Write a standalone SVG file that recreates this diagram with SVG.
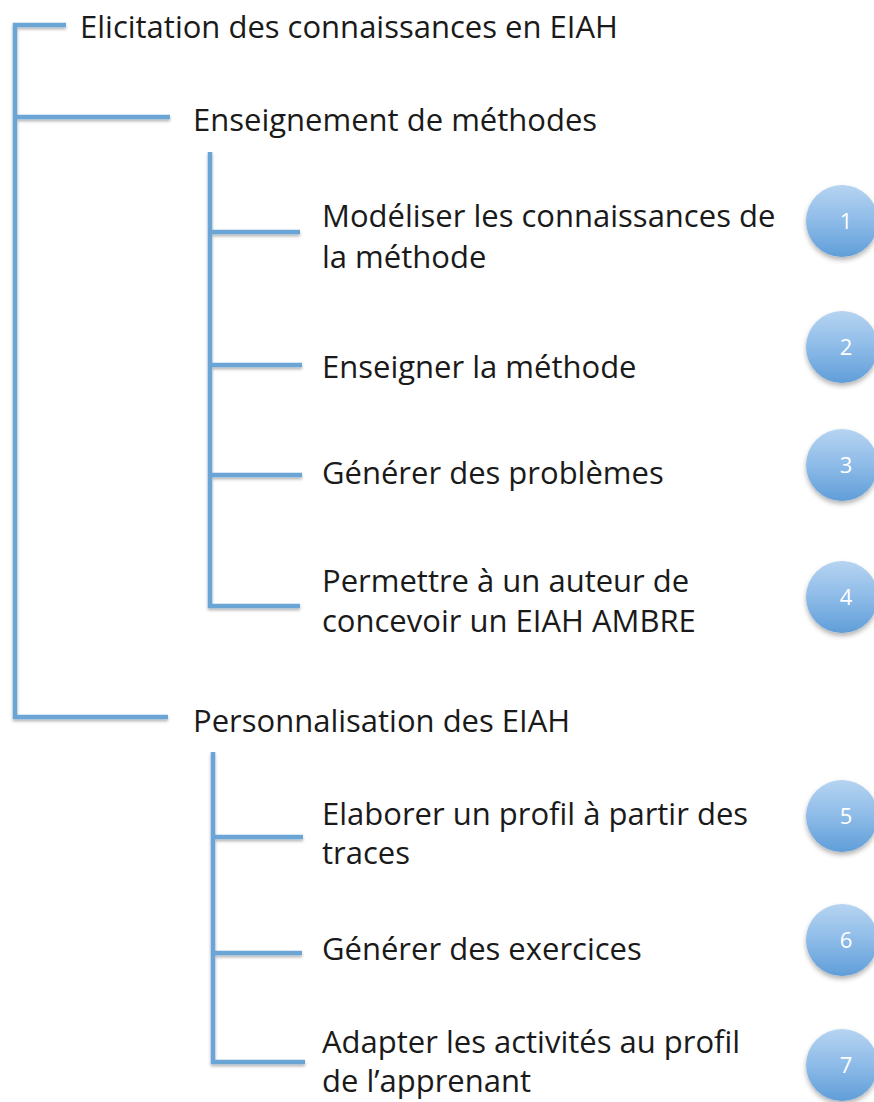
<svg xmlns="http://www.w3.org/2000/svg" width="874" height="1102" viewBox="0 0 874 1102">
<style>
.ln{stroke:#6ba5d6;stroke-width:4.5;fill:none;stroke-linecap:butt;}
.t{font-family:"Open Sans","Liberation Sans",sans-serif;font-size:31px;fill:#1a1a1a;}
.n{font-family:"Open Sans","Liberation Sans",sans-serif;font-size:22px;fill:#ffffff;text-anchor:middle;}
.c{fill:url(#cg);filter:url(#cs);}
</style>
<defs>
<linearGradient id="cg" x1="0" y1="0" x2="0" y2="1">
<stop offset="0" stop-color="#b6d4f1"/>
<stop offset="0.5" stop-color="#8dbbe8"/>
<stop offset="1" stop-color="#609ed9"/>
</linearGradient>
<filter id="ls" x="-20%" y="-20%" width="140%" height="140%">
<feDropShadow dx="0" dy="2" stdDeviation="1.5" flood-color="#000" flood-opacity="0.3"/>
</filter>
<filter id="cs" x="-30%" y="-30%" width="160%" height="170%">
<feDropShadow dx="0" dy="3" stdDeviation="2.5" flood-color="#000" flood-opacity="0.3"/>
</filter>
</defs>
<rect width="874" height="1102" fill="#ffffff"/>
<g id="connectors" filter="url(#ls)">
<path class="ln" d="M66,25 H15 V717 H168"/>
<path class="ln" d="M15,117 H170"/>
<path class="ln" d="M210,152 V606 H300"/>
<path class="ln" d="M210,232 H300"/>
<path class="ln" d="M210,365 H302"/>
<path class="ln" d="M210,475 H302"/>
<path class="ln" d="M213,752 V1062 H305"/>
<path class="ln" d="M213,837 H303"/>
<path class="ln" d="M213,953 H302"/>
</g>
<g id="root"><text class="t" x="80" y="38">Elicitation des connaissances en EIAH</text></g>
<g id="enseignement"><text class="t" x="193" y="131">Enseignement de méthodes</text></g>
<g id="item1">
<text class="t" x="322" y="227">Modéliser les connaissances de</text>
<text class="t" x="322" y="268">la méthode</text>
<circle class="c" cx="842" cy="221" r="36"/>
<text class="n" x="846" y="229">1</text>
</g>
<g id="item2">
<text class="t" x="322" y="378">Enseigner la méthode</text>
<circle class="c" cx="842" cy="347" r="36"/>
<text class="n" x="846" y="355">2</text>
</g>
<g id="item3">
<text class="t" x="322" y="484">Générer des problèmes</text>
<circle class="c" cx="842" cy="465" r="36"/>
<text class="n" x="846" y="473">3</text>
</g>
<g id="item4">
<text class="t" x="322" y="592">Permettre à un auteur de</text>
<text class="t" x="322" y="632">concevoir un EIAH AMBRE</text>
<circle class="c" cx="842" cy="597" r="36"/>
<text class="n" x="846" y="605">4</text>
</g>
<g id="personnalisation"><text class="t" x="193" y="732">Personnalisation des EIAH</text></g>
<g id="item5">
<text class="t" x="322" y="825">Elaborer un profil à partir des</text>
<text class="t" x="322" y="864">traces</text>
<circle class="c" cx="842" cy="816" r="36"/>
<text class="n" x="846" y="824">5</text>
</g>
<g id="item6">
<text class="t" x="322" y="960">Générer des exercices</text>
<circle class="c" cx="842" cy="940" r="36"/>
<text class="n" x="846" y="948">6</text>
</g>
<g id="item7">
<text class="t" x="322" y="1053">Adapter les activités au profil</text>
<text class="t" x="322" y="1092">de l’apprenant</text>
<circle class="c" cx="842" cy="1065" r="36"/>
<text class="n" x="846" y="1073">7</text>
</g>
</svg>
